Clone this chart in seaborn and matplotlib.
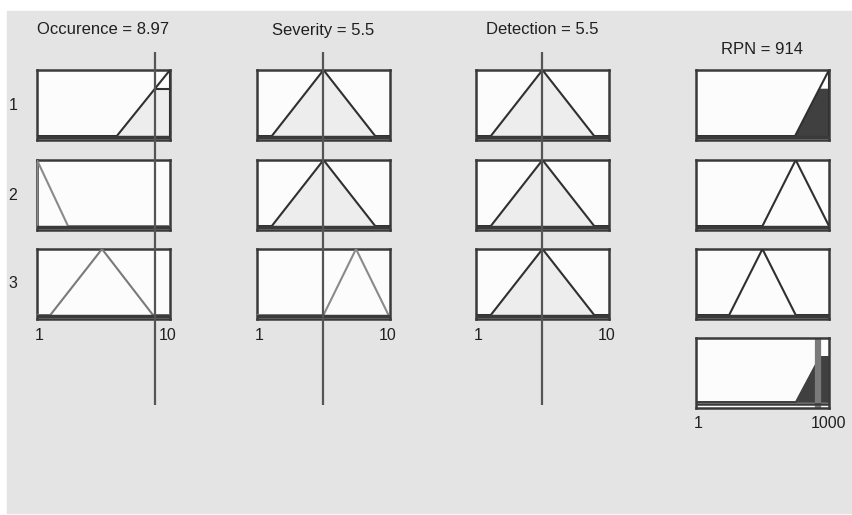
import numpy as np
import matplotlib
matplotlib.use("Agg")
import matplotlib.pyplot as plt
import seaborn as sns
from matplotlib.patches import Rectangle

sns.set_theme(style="white")
plt.rcParams['font.family'] = ['Liberation Sans', 'DejaVu Sans']
plt.rcParams['text.color'] = "#202020"

# inputs: name, crisp value, membership functions (a, peak, c) on 1..10
input_names = ["Occurence", "Severity", "Detection"]
input_values = [8.97, 5.5, 5.5]
occ_mfs = [(6.4, 10, 10), (1, 1, 3.1), (1.9, 5.4, 8.85)]
sev_mfs = [(2, 5.5, 9), (2, 5.5, 9), (5.5, 7.7, 9.9)]
det_mfs = [(2, 5.5, 9), (2, 5.5, 9), (2, 5.5, 9)]
input_mfs = [occ_mfs, sev_mfs, det_mfs]
input_line_colors = [["#303030", "#8a8a8a", "#7a7a7a"],
                     ["#303030", "#303030", "#8a8a8a"],
                     ["#303030", "#303030", "#303030"]]
in_range = (1, 10)

# output RPN on 1..1000
rpn_mfs = [(745, 1000, 1000), (500, 750, 1000), (250, 500, 750)]
rpn_value = 914
out_range = (1, 1000)
rule_labels = ["1", "2", "3"]

W, H = 853, 515
fig = plt.figure(figsize=(W / 100, H / 100), dpi=100)
fig.patch.set_facecolor("white")
fig.patches.append(Rectangle((7 / W, 2 / H), 1 - 7 / W, 1 - 13 / H,
                             transform=fig.transFigure, color="#e4e4e4", zorder=-10))


def px_axes(x, y, w, h, **kw):
    return fig.add_axes([x / W, 1 - (y + h) / H, w / W, h / H], **kw)


def mf_curve(p, lo, hi):
    a, b, c = p
    xs = np.array([lo, a, b, c, hi], dtype=float)
    ys = np.array([0, 0, 1, 0, 0], dtype=float)
    return xs, ys


def mf_eval(p, x):
    a, b, c = p
    if b > a and a <= x <= b:
        return (x - a) / (b - a)
    if c > b and b <= x <= c:
        return (c - x) / (c - b)
    return 1.0 if x == b else 0.0


col_x = [37, 257, 476, 696]
row_y = [70, 160, 249, 338]
bw, bh = 133, 70
fs_title, fs_tick = 12, 11.5


def box(ax, lo, hi):
    ax.set_xlim(lo, hi)
    ax.set_ylim(-0.06, 1.0)
    ax.set_facecolor("#fcfcfc")
    ax.set_xticks([])
    ax.set_yticks([])
    for s in ax.spines.values():
        s.set_color("#3a3a3a")
        s.set_linewidth(1.8)


# rule firing strengths (min of input degrees)
degrees = [[mf_eval(mfs[r], v) for mfs, v in zip(input_mfs, input_values)] for r in range(3)]
firing = [min(d) for d in degrees]

for c in range(3):
    for r in range(3):
        ax = px_axes(col_x[c], row_y[r], bw, bh)
        box(ax, *in_range)
        xs, ys = mf_curve(input_mfs[c][r], *in_range)
        grid = np.linspace(*in_range, 400)
        mf = np.interp(grid, xs[1:4], ys[1:4], left=0, right=0)
        deg = degrees[r][c]
        if deg > 0:
            clipped = np.minimum(mf, deg)
            ax.fill_between(grid, 0, clipped, color="#ededed", zorder=1)
            top = clipped >= deg - 1e-9
            ax.plot(grid[top], np.full(top.sum(), deg), color="#303030", lw=1.5, zorder=2)
        sns.lineplot(x=xs, y=ys, ax=ax, color=input_line_colors[c][r], lw=1.5,
                     sort=False, estimator=None, zorder=3)
        ax.axhline(-0.02, color="#3a3a3a", lw=2.5, zorder=3)
    # crisp input line
    ov = px_axes(col_x[c], 52, bw, 353)
    ov.set_xlim(*in_range)
    ov.set_ylim(0, 1)
    ov.axis("off")
    ov.axvline(input_values[c], color="#555555", lw=1.6)
    fig.text((col_x[c] + bw / 2) / W, 1 - 30 / H,
             f"{input_names[c]} = {input_values[c]:g}", ha="center", va="center", fontsize=fs_title)
    fig.text((col_x[c] - 2) / W, 1 - 335 / H, "1", ha="left", va="center", fontsize=fs_tick)
    fig.text((col_x[c] + bw - 2) / W, 1 - 335 / H, "10", ha="center", va="center", fontsize=fs_tick)

for r in range(3):
    fig.text(13 / W, 1 - (row_y[r] + 35) / H, rule_labels[r], ha="center", va="center", fontsize=fs_tick)

# output column
grid = np.linspace(*out_range, 800)
agg = np.zeros_like(grid)
for r in range(3):
    ax = px_axes(col_x[3], row_y[r], bw, bh)
    box(ax, *out_range)
    xs, ys = mf_curve(rpn_mfs[r], *out_range)
    mf = np.interp(grid, xs[1:4], ys[1:4], left=0, right=0)
    clipped = np.minimum(mf, firing[r])
    agg = np.maximum(agg, clipped)
    if firing[r] > 0:
        ax.fill_between(grid, 0, clipped, color="#404040", zorder=1)
    sns.lineplot(x=xs, y=ys, ax=ax, color="#303030", lw=1.5, sort=False, estimator=None, zorder=3)
    ax.axhline(-0.02, color="#3a3a3a", lw=2.5, zorder=3)

ax = px_axes(col_x[3], row_y[3], bw, bh)
box(ax, *out_range)
ax.set_ylim(-0.1, 1.0)
ax.fill_between(grid, 0, agg, color="#404040", zorder=1)
ax.axvline(rpn_value, color="#7a7a7a", lw=4.5, zorder=2)
ax.axhline(-0.03, color="#3a3a3a", lw=1.8, zorder=3)

fig.text((col_x[3] + bw / 2) / W, 1 - 50 / H, f"RPN = {rpn_value}", ha="center", va="center", fontsize=fs_title)
fig.text((col_x[3] - 2) / W, 1 - 424 / H, "1", ha="left", va="center", fontsize=fs_tick)
fig.text((col_x[3] + bw) / W, 1 - 424 / H, "1000", ha="center", va="center", fontsize=fs_tick)

fig.savefig("out.png", dpi=100)
